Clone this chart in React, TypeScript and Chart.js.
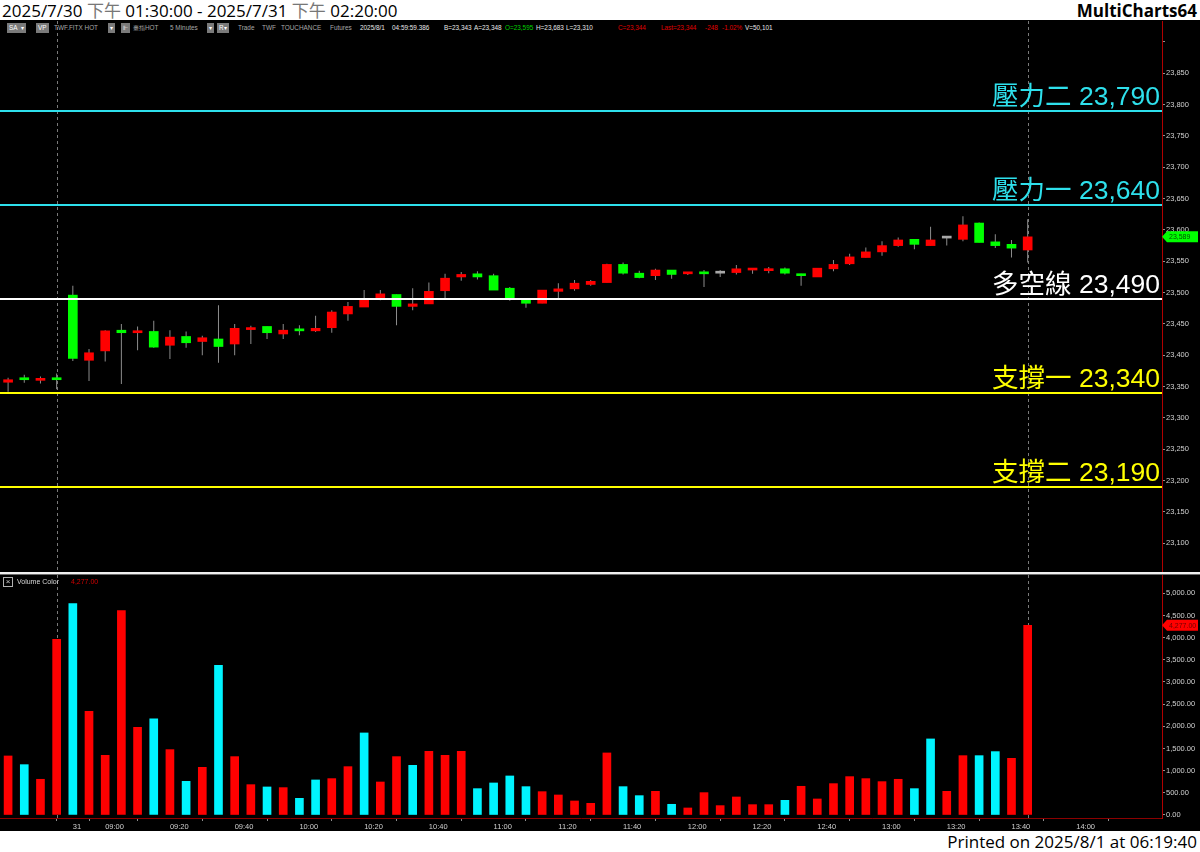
import React, { useEffect, useRef } from 'react';
import { Chart, registerables } from 'chart.js';
Chart.register(...registerables);

// ---------- data ----------
const opens = [23357, 23363, 23360, 23362, 23496, 23392, 23407, 23440, 23436, 23438, 23416, 23430, 23422, 23426, 23418, 23441, 23446, 23434, 23440, 23439, 23444, 23466, 23477, 23492, 23497, 23478, 23482, 23503, 23525, 23530, 23527, 23507, 23488, 23483, 23502, 23506, 23513, 23516, 23545, 23531, 23527, 23536, 23530, 23533, 23531, 23532, 23536, 23535, 23538, 23530, 23525, 23538, 23546, 23556, 23565, 23575, 23585, 23575, 23587, 23585, 23611, 23581, 23577, 23568];
const highs = [23364, 23369, 23366, 23371, 23511, 23410, 23440, 23450, 23446, 23455, 23440, 23438, 23431, 23480, 23450, 23447, 23446, 23450, 23448, 23463, 23472, 23485, 23504, 23504, 23497, 23507, 23516, 23530, 23533, 23534, 23530, 23509, 23488, 23504, 23515, 23520, 23520, 23546, 23548, 23535, 23538, 23536, 23533, 23536, 23536, 23544, 23538, 23541, 23540, 23530, 23539, 23552, 23562, 23572, 23582, 23588, 23585, 23605, 23587, 23622, 23612, 23593, 23584, 23617];
const lows = [23342, 23356, 23355, 23346, 23391, 23359, 23390, 23354, 23408, 23412, 23394, 23412, 23400, 23388, 23400, 23418, 23426, 23426, 23432, 23437, 23436, 23455, 23477, 23488, 23448, 23472, 23482, 23490, 23519, 23521, 23504, 23487, 23476, 23483, 23490, 23503, 23511, 23516, 23529, 23523, 23520, 23522, 23528, 23509, 23525, 23529, 23530, 23531, 23529, 23511, 23525, 23534, 23544, 23556, 23559, 23573, 23569, 23575, 23575, 23582, 23580, 23571, 23556, 23548];
const closes = [23361, 23361, 23362, 23361, 23395, 23404, 23439, 23436, 23438, 23413, 23429, 23420, 23428, 23414, 23443, 23444, 23436, 23440, 23439, 23443, 23469, 23478, 23488, 23498, 23478, 23482, 23502, 23523, 23529, 23525, 23504, 23491, 23483, 23504, 23506, 23515, 23518, 23545, 23531, 23524, 23536, 23529, 23533, 23530, 23531, 23538, 23538, 23538, 23531, 23527, 23539, 23545, 23557, 23565, 23575, 23584, 23577, 23584, 23587, 23608, 23580, 23575, 23571, 23589];
const volumes = [1331, 1135, 805, 3963, 4767, 2339, 1346, 4610, 1978, 2166, 1474, 759, 1075, 3376, 1316, 684, 632, 617, 376, 790, 820, 1090, 1850, 744, 1316, 1120, 1436, 1346, 1436, 594, 722, 880, 639, 526, 451, 316, 263, 1399, 639, 436, 534, 241, 158, 504, 211, 406, 233, 233, 331, 647, 361, 707, 865, 820, 752, 805, 594, 1715, 534, 1338, 1338, 1429, 1278, 4277];
const volumeSide = ['r','c','r','r','c','r','r','r','r','c','r','c','r','c','r','r','c','r','c','c','r','r','c','r','r','c','r','r','r','c','c','c','c','r','r','r','r','r','c','c','r','c','r','r','r','r','r','r','c','r','r','r','r','r','r','r','c','c','r','r','c','c','r','r'];
const xTickIdx = [4, 6, 10, 14, 18, 22, 26, 30, 34, 38, 42, 46, 50, 54, 58, 62, 66];
const xTickText = ['31', '09:00', '09:20', '09:40', '10:00', '10:20', '10:40', '11:00', '11:20', '11:40', '12:00', '12:20', '12:40', '13:00', '13:20', '13:40', '14:00'];
const priceTicks = [23100, 23150, 23200, 23250, 23300, 23350, 23400, 23450, 23500, 23550, 23600, 23650, 23700, 23750, 23800, 23850, 23900];
const volumeTicks = [0, 500, 1000, 1500, 2000, 2500, 3000, 3500, 4000, 4500, 5000];
const levelNames = ['壓力二', '壓力一', '多空線', '支撐一', '支撐二'];
const levelValues = [23790, 23640, 23490, 23340, 23190];
const markerIdx = [3, 63];

// ---------- styles ----------
const levelColors = ['#2ee0ec', '#2ee0ec', '#ffffff', '#ffff00', '#ffff00'];
const UP = '#ff0000';
const DOWN = '#00ff00';
const DOJI = '#a8a8a8';
const WICK = '#8c8c8c';
const VOL_R = '#ff0000';
const VOL_C = '#00f4ff';
const AXIS_RED = '#b00000';
const TICK_COLOR = '#d0d0d0';
const FONT = '"Liberation Sans", Arial, sans-serif';

const fmt0 = (v: number) => v.toLocaleString('en-US');
const fmt2 = (v: number) => v.toLocaleString('en-US', { minimumFractionDigits: 2, maximumFractionDigits: 2 });

function drawMarkers(chart: any) {
  const { ctx, chartArea } = chart;
  const xs = chart.scales.x;
  ctx.save();
  ctx.strokeStyle = '#7a7a7a';
  ctx.lineWidth = 1;
  ctx.setLineDash([3, 3]);
  markerIdx.forEach((i) => {
    const x = Math.round(xs.getPixelForValue(i)) + 0.5;
    ctx.beginPath();
    ctx.moveTo(x, chartArea.top);
    ctx.lineTo(x, chartArea.bottom);
    ctx.stroke();
  });
  ctx.restore();
}

function drawTag(chart: any, value: number, text: string, bg: string, fg: string) {
  const { ctx, chartArea } = chart;
  const y = chart.scales.y.getPixelForValue(value);
  const x0 = chartArea.right;
  ctx.save();
  ctx.fillStyle = bg;
  ctx.beginPath();
  ctx.moveTo(x0, y);
  ctx.lineTo(x0 + 5, y - 5.5);
  ctx.lineTo(x0 + 36, y - 5.5);
  ctx.lineTo(x0 + 36, y + 5.5);
  ctx.lineTo(x0 + 5, y + 5.5);
  ctx.closePath();
  ctx.fill();
  ctx.fillStyle = fg;
  ctx.font = `7px ${FONT}`;
  ctx.textBaseline = 'middle';
  ctx.textAlign = 'left';
  ctx.fillText(text, x0 + 7, y + 0.5);
  ctx.restore();
}

const pricePlugin = {
  id: 'priceOverlay',
  beforeDatasetsDraw(chart: any) {
    drawMarkers(chart);
  },
  afterDatasetsDraw(chart: any) {
    const { ctx, chartArea } = chart;
    const ys = chart.scales.y;
    ctx.save();
    levelValues.forEach((v, i) => {
      const y = Math.round(ys.getPixelForValue(v));
      ctx.strokeStyle = levelColors[i];
      ctx.lineWidth = 2;
      ctx.beginPath();
      ctx.moveTo(chartArea.left, y);
      ctx.lineTo(chartArea.right, y);
      ctx.stroke();
      ctx.fillStyle = levelColors[i];
      ctx.font = `26.5px "Liberation Sans", "Noto Sans CJK TC", sans-serif`;
      ctx.textAlign = 'right';
      ctx.textBaseline = 'alphabetic';
      ctx.fillText(`${levelNames[i]} ${fmt0(v)}`, chartArea.right - 2, y - 6);
    });
    ctx.restore();
  },
  afterDraw(chart: any) {
    const last = closes[closes.length - 1];
    drawTag(chart, last, fmt0(last), '#00ff00', '#005000');
  },
};

const volumePlugin = {
  id: 'volumeOverlay',
  beforeDatasetsDraw(chart: any) {
    drawMarkers(chart);
  },
  afterDraw(chart: any) {
    const last = volumes[volumes.length - 1];
    drawTag(chart, last, fmt2(last), '#ff0000', '#700000');
  },
};

const infoTokens: { t: string; x: number; c: string; box?: boolean }[] = [
  { t: 'SA', x: 7, c: '#ffffff', box: true },
  { t: '▾', x: 19, c: '#ffffff', box: true },
  { t: 'VP', x: 36, c: '#ffffff', box: true },
  { t: 'TWF.FITX HOT', x: 54, c: '#a8a8a8' },
  { t: '▾', x: 108, c: '#ffffff', box: true },
  { t: '⊩', x: 121, c: '#ffffff', box: true },
  { t: '臺指HOT', x: 133, c: '#a8a8a8' },
  { t: '5 Minutes', x: 170, c: '#a8a8a8' },
  { t: '▾', x: 207, c: '#ffffff', box: true },
  { t: 'R▾', x: 217, c: '#ffffff', box: true },
  { t: 'Trade', x: 238, c: '#a8a8a8' },
  { t: 'TWF', x: 262, c: '#a8a8a8' },
  { t: 'TOUCHANCE', x: 281, c: '#a8a8a8' },
  { t: 'Futures', x: 330, c: '#a8a8a8' },
  { t: '2025/8/1', x: 360, c: '#e8e8e8' },
  { t: '04:59:59.386', x: 392, c: '#e8e8e8' },
  { t: 'B=23,343', x: 444, c: '#e8e8e8' },
  { t: 'A=23,348', x: 474, c: '#e8e8e8' },
  { t: 'O=23,595', x: 505, c: '#00d000' },
  { t: 'H=23,683', x: 536, c: '#e8e8e8' },
  { t: 'L=23,310', x: 566, c: '#e8e8e8' },
  { t: 'C=23,344', x: 618, c: '#e00000' },
  { t: 'Last=23,344', x: 661, c: '#e00000' },
  { t: '-248', x: 705, c: '#e00000' },
  { t: '-1.02%', x: 722, c: '#e00000' },
  { t: 'V=50,101', x: 745, c: '#e8e8e8' },
];

export default function App() {
  const priceRef = useRef<HTMLCanvasElement>(null);
  const volRef = useRef<HTMLCanvasElement>(null);

  useEffect(() => {
    const bodyColors = opens.map((o, i) => (closes[i] > o ? UP : closes[i] < o ? DOWN : DOJI));
    const priceChart = new Chart(priceRef.current as HTMLCanvasElement, {
      type: 'bar',
      data: {
        datasets: [
          {
            data: opens.map((o, i) => ({ x: i, y: [o, closes[i]] })) as any,
            backgroundColor: bodyColors,
            borderWidth: 0,
            barThickness: 9,
            minBarLength: 2,
            grouped: false,
          } as any,
          {
            data: lows.map((l, i) => ({ x: i, y: [l, highs[i]] })) as any,
            backgroundColor: WICK,
            borderWidth: 0,
            barThickness: 1,
            inflateAmount: 0,
            grouped: false,
          } as any,
        ],
      },
      options: {
        responsive: false,
        animation: false,
        events: [],
        layout: { padding: 0 },
        plugins: { legend: { display: false }, tooltip: { enabled: false } },
        scales: {
          x: { type: 'linear', min: -0.5, max: 71.3, offset: false, display: false, bounds: 'data' } as any,
          y: {
            type: 'linear',
            position: 'right',
            min: 23052.6,
            max: 23933.4,
            bounds: 'data',
            afterBuildTicks: (s: any) => { s.ticks = priceTicks.map((v) => ({ value: v })); },
            afterFit: (s: any) => { s.width = 38; s.paddingTop = 0; s.paddingBottom = 0; },
            ticks: {
              color: TICK_COLOR,
              font: { family: FONT, size: 7.5 },
              padding: 1,
              callback: (v: any) => (v > 23850 ? '' : fmt0(v)),
            },
            grid: { drawOnChartArea: false, tickLength: 3, color: '#909090' },
            border: { color: AXIS_RED, width: 1 },
          } as any,
        },
      },
      plugins: [pricePlugin],
    });

    const volChart = new Chart(volRef.current as HTMLCanvasElement, {
      type: 'bar',
      data: {
        datasets: [
          {
            data: volumes.map((v, i) => ({ x: i, y: v })) as any,
            backgroundColor: volumeSide.map((s) => (s === 'r' ? VOL_R : VOL_C)),
            borderWidth: 0,
            barThickness: 8,
          } as any,
        ],
      },
      options: {
        responsive: false,
        animation: false,
        events: [],
        layout: { padding: 0 },
        plugins: { legend: { display: false }, tooltip: { enabled: false } },
        scales: {
          x: {
            type: 'linear',
            min: -0.5,
            max: 71.3,
            offset: false,
            bounds: 'data',
            afterBuildTicks: (s: any) => { s.ticks = xTickIdx.map((v) => ({ value: v })); },
            afterFit: (s: any) => { s.height = 12; s.paddingLeft = 0; s.paddingRight = 0; },
            ticks: {
              autoSkip: false,
              maxRotation: 0,
              minRotation: 0,
              align: 'start',
              padding: 1,
              color: TICK_COLOR,
              font: { family: FONT, size: 7.5 },
              callback: (v: any) => {
                const k = xTickIdx.indexOf(Math.round(v));
                return k >= 0 ? xTickText[k] : '';
              },
            },
            grid: { drawOnChartArea: false, tickLength: 3, color: '#909090' },
            border: { color: '#8b0000', width: 1 },
          } as any,
          y: {
            type: 'linear',
            position: 'right',
            min: -68,
            max: 5412,
            bounds: 'data',
            afterBuildTicks: (s: any) => { s.ticks = volumeTicks.map((v) => ({ value: v })); },
            afterFit: (s: any) => { s.width = 38; s.paddingTop = 0; s.paddingBottom = 0; },
            ticks: {
              color: TICK_COLOR,
              font: { family: FONT, size: 7.5 },
              padding: 1,
              callback: (v: any) => fmt2(v),
            },
            grid: { drawOnChartArea: false, tickLength: 3, color: '#909090' },
            border: { color: AXIS_RED, width: 1 },
          } as any,
        },
      },
      plugins: [volumePlugin],
    });

    return () => {
      priceChart.destroy();
      volChart.destroy();
    };
  }, []);

  const head = '"Open Sans", "Noto Sans CJK TC", sans-serif';
  return (
    <div style={{ position: 'absolute', left: 0, top: 0, width: 1200, height: 852, background: '#ffffff', overflow: 'hidden' }}>
      <div style={{ position: 'absolute', left: 0, top: 20, width: 1200, height: 811, background: '#000000' }} />
      <div style={{ position: 'absolute', left: 2, top: 0, height: 22, lineHeight: '22px', fontFamily: head, fontSize: 17, color: '#000', whiteSpace: 'nowrap' }}>
        2025/7/30 <span style={{ color: '#777' }}>下午</span> 01:30:00 - 2025/7/31 <span style={{ color: '#777' }}>下午</span> 02:20:00
      </div>
      <div style={{ position: 'absolute', right: 3, top: 0, height: 22, lineHeight: '22px', fontFamily: head, fontSize: 17, fontWeight: 'bold', color: '#000' }}>
        MultiCharts64
      </div>
      {infoTokens.map((tk, i) => (
        <span
          key={i}
          style={{
            position: 'absolute',
            left: tk.x,
            top: 23,
            height: 10,
            lineHeight: '10px',
            fontFamily: FONT,
            fontSize: 6.4,
            color: tk.c,
            background: tk.box ? '#7a7a7a' : 'transparent',
            padding: tk.box ? '0 2px' : 0,
            whiteSpace: 'nowrap',
          }}
        >
          {tk.t}
        </span>
      ))}
      <canvas ref={priceRef} width={1200} height={552} style={{ position: 'absolute', left: 0, top: 21 }} />
      <div style={{ position: 'absolute', left: 0, top: 572, width: 1200, height: 2, background: '#f0f0f0' }} />
      <div style={{ position: 'absolute', left: 0, top: 574, width: 1200, height: 1, background: '#6a6a6a' }} />
      <canvas ref={volRef} width={1200} height={255} style={{ position: 'absolute', left: 0, top: 575 }} />
      <div style={{ position: 'absolute', left: 3, top: 577, width: 8, height: 8, border: '1px solid #b0b0b0', color: '#d0d0d0', fontFamily: FONT, fontSize: 8, lineHeight: '8px', textAlign: 'center' }}>×</div>
      <span style={{ position: 'absolute', left: 17, top: 577, lineHeight: '10px', fontFamily: FONT, fontSize: 7, color: '#d8d8d8' }}>Volume Color</span>
      <span style={{ position: 'absolute', left: 71, top: 577, lineHeight: '10px', fontFamily: FONT, fontSize: 7, color: '#d00000' }}>4,277.00</span>
      <div style={{ position: 'absolute', right: 3, top: 831, height: 21, lineHeight: '21px', fontFamily: head, fontSize: 17, color: '#000', whiteSpace: 'nowrap' }}>
        Printed on 2025/8/1 at 06:19:40
      </div>
    </div>
  );
}
